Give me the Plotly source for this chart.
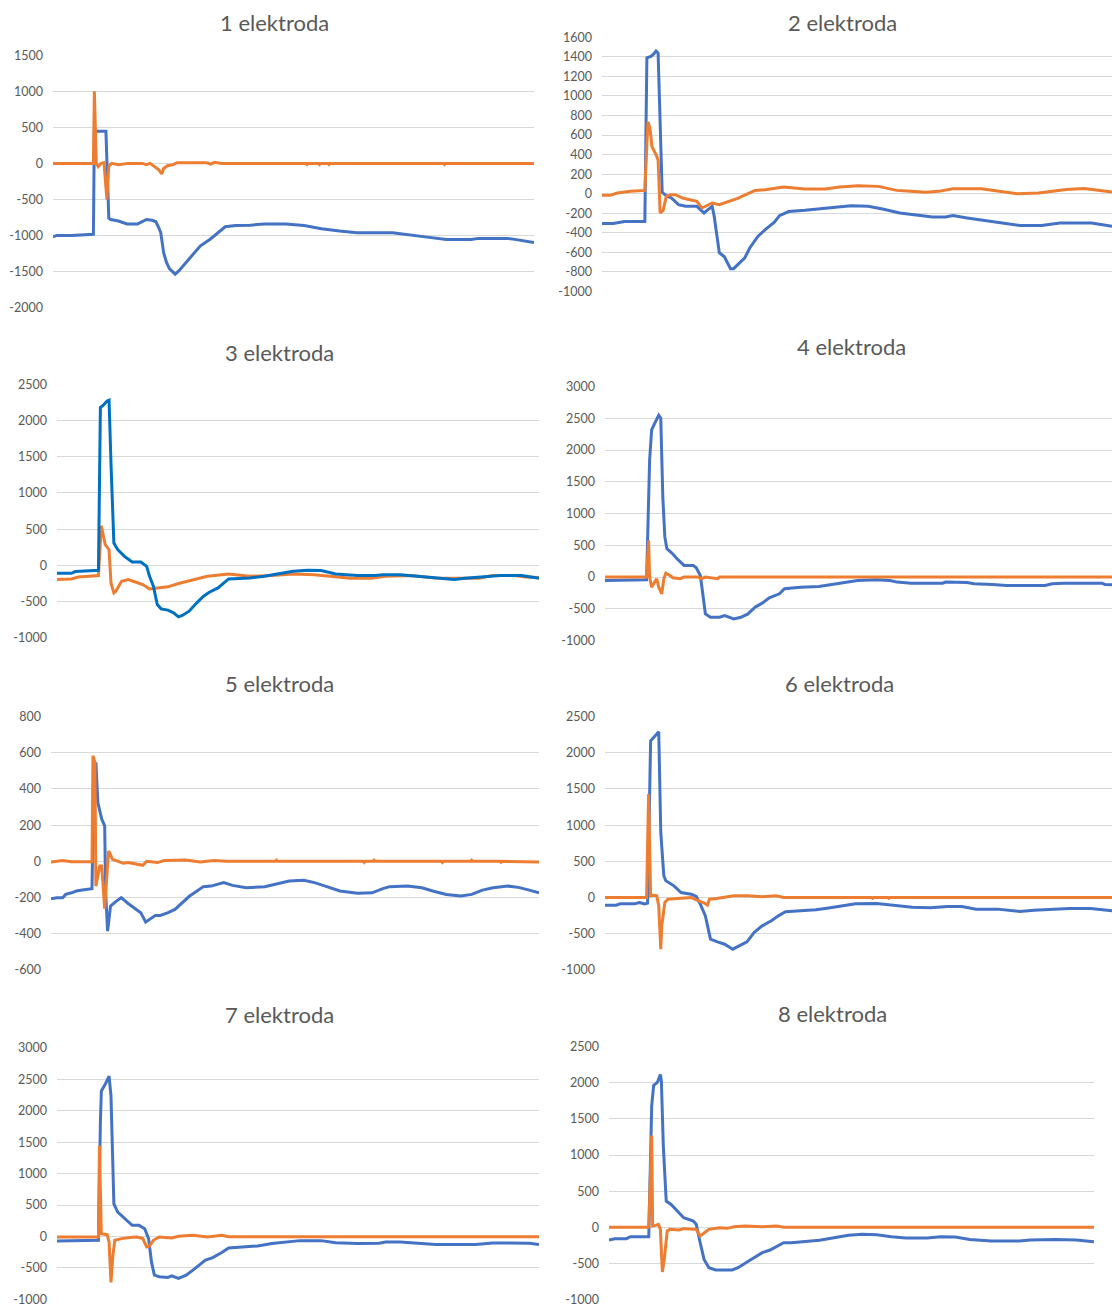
import plotly.graph_objects as go

W, H = 1112, 1307
TOP_PAD = 7.7            # vertical placement used to map page pixels onto the figure
V_SCALE = 0.988
BLUE = "#4472C4"
BLUE_DARK = "#0070C0"
ORANGE = "#ED7D31"
TEXT = "#595959"
GRID = "#D9D9D9"

# ---- electrode 1 ----
e1_blue_x = [0, 4, 19, 42, 43, 45, 55, 58, 60, 68, 77, 88, 94, 97, 103, 107, 110, 112, 115, 118,
             121, 127, 131, 138, 146, 153, 164, 171, 179, 190, 205, 220, 242, 261, 279, 298, 316,
             353, 372, 391, 409, 435, 442, 472, 480, 491, 500]
e1_blue_y = [-1018, -1000, -1000, -985, 435, 445, 445, -760, -780, -800, -840, -840, -800, -780,
             -790, -810, -895, -960, -1240, -1376, -1460, -1537, -1490, -1376, -1248, -1147, -1046,
             -963, -880, -862, -858, -840, -840, -862, -908, -940, -963, -963, -1000, -1027, -1055,
             -1055, -1041, -1041, -1055, -1078, -1100]
e1_orange_x = [0, 42, 43, 45, 47, 50, 53, 56, 58, 61, 68, 75, 78, 93, 97, 101, 106, 110, 113, 115,
               119, 125, 129, 160, 164, 168, 175, 263, 264, 265, 276, 277, 278, 286, 287, 288, 406,
               407, 408, 500]
e1_orange_y = [0, 0, 1000, 0, -46, 0, 10, -500, -40, 0, -18, -10, 0, 0, -18, 0, -46, -90, -147, -70,
               -32, -18, 9, 9, -10, 14, 0, 0, -15, 0, 0, -15, 0, 0, -15, 0, 0, -15, 0, 0]
e1_ticks = [-2000, -1500, -1000, -500, 0, 500, 1000, 1500]

# ---- electrode 2 ----
e2_blue_x = [0, 11, 22, 42, 44, 48, 51, 53, 55, 57, 59, 63, 68, 75, 82, 93, 96, 100, 103, 108, 110,
             115, 120, 126, 129, 133, 140, 145, 153, 160, 169, 174, 183, 199, 219, 233, 244, 261,
             275, 292, 310, 324, 337, 344, 358, 379, 400, 410, 431, 449, 480, 500]
e2_blue_y = [-305, -305, -285, -285, 1391, 1405, 1432, 1460, 1439, 618, 14, -20, -44, -112, -129,
             -129, -163, -197, -170, -129, -231, -604, -645, -767, -767, -723, -655, -553, -434,
             -367, -292, -224, -183, -170, -149, -136, -122, -129, -156, -197, -224, -238, -238,
             -224, -248, -278, -305, -326, -326, -299, -299, -333]
e2_orange_x = [0, 8, 15, 28, 42, 45, 47, 49, 53, 55, 57, 60, 63, 67, 72, 79, 86, 93, 98, 101, 108,
               115, 122, 127, 133, 141, 150, 160, 178, 199, 219, 233, 251, 271, 289, 303, 317, 330,
               344, 372, 389, 407, 428, 442, 455, 473, 490, 500]
e2_orange_y = [-17, -17, 7, 24, 34, 736, 669, 482, 397, 346, -197, -170, -27, -10, -10, -44, -61,
               -78, -146, -129, -95, -112, -88, -75, -48, -10, 34, 41, 68, 48, 48, 68, 81, 75, 34,
               24, 14, 24, 51, 51, 27, 0, 7, 27, 44, 54, 34, 17]
e2_ticks = [-1000, -800, -600, -400, -200, 0, 200, 400, 600, 800, 1000, 1200, 1400, 1600]

# ---- electrode 3 ----
e3_blue_x = [0, 15, 19, 30, 43, 45, 48, 52, 54, 56, 59, 63, 70, 78, 87, 93, 96, 100, 104, 108, 115,
             121, 126, 130, 137, 145, 152, 158, 167, 178, 200, 215, 230, 245, 260, 274, 289, 312,
             330, 338, 356, 375, 393, 412, 423, 438, 460, 482, 500]
e3_blue_y = [-110, -110, -87, -78, -69, 2182, 2214, 2273, 2283, 1410, 308, 216, 124, 46, 46, -14,
             -152, -289, -542, -602, -620, -657, -712, -694, -634, -519, -427, -372, -312, -188,
             -175, -152, -119, -83, -69, -73, -119, -142, -142, -129, -129, -152, -175, -197, -179,
             -161, -142, -142, -179]
e3_orange_x = [0, 15, 22, 43, 46, 50, 54, 56, 59, 61, 67, 74, 82, 89, 96, 104, 115, 126, 141, 156,
               178, 200, 223, 245, 267, 289, 304, 326, 341, 367, 393, 415, 438, 452, 475, 486, 500]
e3_orange_y = [-197, -190, -161, -142, 547, 285, 216, -243, -381, -358, -220, -197, -234, -266,
               -326, -312, -298, -252, -207, -152, -119, -152, -142, -119, -129, -161, -179, -179,
               -152, -142, -175, -179, -179, -142, -142, -161, -170]
e3_ticks = [-1000, -500, 0, 500, 1000, 1500, 2000, 2500]

# ---- electrode 4 ----
e4_blue_x = [0, 22, 41, 44, 46, 49, 53, 55, 57, 59, 61, 66, 71, 78, 87, 90, 94, 96, 99, 104, 113,
             118, 127, 134, 141, 148, 155, 162, 172, 177, 193, 211, 225, 239, 249, 267, 281, 288,
             302, 333, 336, 357, 364, 382, 396, 434, 441, 452, 490, 493, 500]
e4_blue_y = [-53, -53, -42, 1842, 2316, 2421, 2547, 2500, 1263, 632, 447, 379, 289, 184, 184, 147,
             26, -211, -579, -632, -632, -605, -658, -632, -579, -474, -410, -326, -263, -184,
             -158, -147, -116, -79, -53, -42, -53, -79, -95, -95, -79, -84, -105, -116, -132, -132,
             -105, -95, -95, -116, -121]
e4_orange_x = [0, 41, 43, 44, 46, 49, 51, 53, 56, 58, 60, 64, 67, 74, 78, 92, 95, 99, 111, 113, 500]
e4_orange_y = [0, 0, 579, 0, -158, -63, -26, -158, -263, -26, 63, 26, -10, -26, 0, 0, -26, 0, -26,
               0, 0]
e4_ticks = [-1000, -500, 0, 500, 1000, 1500, 2000, 2500, 3000]

# ---- electrode 5 ----
e5_blue_x = [0, 6, 12, 15, 21, 26, 32, 37, 42, 44, 46, 48, 52, 55, 56, 58, 61, 67, 72, 79, 87, 92,
             97, 101, 107, 112, 120, 127, 134, 142, 147, 156, 164, 177, 186, 200, 219, 233, 244,
             259, 270, 281, 296, 314, 329, 340, 347, 365, 380, 391, 405, 420, 431, 442, 453, 468,
             479, 490, 500]
e5_blue_y = [-207, -201, -201, -183, -174, -164, -159, -155, -151, 473, 547, 325, 233, 196, -174,
             -386, -247, -220, -201, -233, -262, -284, -336, -321, -299, -299, -284, -266, -233,
             -192, -174, -140, -137, -118, -133, -146, -140, -122, -109, -105, -118, -137, -164,
             -177, -174, -151, -140, -137, -146, -164, -183, -192, -183, -159, -146, -137, -144,
             -159, -174]
e5_orange_x = [0, 12, 21, 35, 42, 43, 45, 46, 50, 52, 55, 57, 59, 60, 63, 69, 74, 79, 94, 98, 109,
               116, 138, 153, 167, 180, 230, 231, 232, 320, 321, 322, 330, 331, 332, 400, 401, 402,
               430, 431, 432, 460, 461, 462, 500]
e5_orange_y = [-4, 4, -2, 0, -2, 584, 547, -137, -26, -26, -262, -100, 57, 48, 11, 0, -11, -7, -22,
               0, -7, 4, 7, -4, 4, 0, 0, 6, 0, 0, -6, 0, 0, 6, 0, 0, -6, 0, 0, 6, 0, 0, -5, 0, -4]
e5_ticks = [-600, -400, -200, 0, 200, 400, 600, 800]

# ---- electrode 6 ----
e6_blue_x = [0, 11, 15, 29, 34, 39, 42, 45, 48, 51, 53, 55, 58, 60, 68, 75, 85, 90, 94, 99, 104,
             111, 118, 126, 131, 140, 147, 155, 164, 171, 178, 191, 208, 219, 233, 247, 268, 282,
             303, 321, 338, 352, 366, 387, 409, 423, 444, 458, 479, 500]
e6_blue_y = [-106, -106, -88, -88, -69, -88, -78, 2167, 2213, 2259, 2292, 899, 300, 230, 161, 69,
             46, 14, -92, -254, -576, -613, -646, -715, -682, -613, -484, -392, -323, -254, -198,
             -184, -171, -148, -115, -88, -83, -106, -134, -143, -124, -124, -161, -161, -194,
             -175, -161, -152, -152, -184]
e6_orange_x = [0, 41, 43, 45, 48, 51, 53, 55, 56, 59, 62, 71, 85, 92, 98, 101, 103, 110, 117, 127,
               141, 155, 169, 176, 263, 264, 265, 279, 280, 281, 500]
e6_orange_y = [0, 0, 1429, 23, 32, 23, -115, -715, -392, -69, -23, -14, 0, -46, -78, -106, -23,
               -14, 0, 23, 23, 9, 23, 0, 0, -12, 0, 0, -12, 0, 0]
e6_ticks = [-1000, -500, 0, 500, 1000, 1500, 2000, 2500]

# ---- electrode 7 ----
e7_blue_x = [0, 15, 24, 43, 45, 46, 50, 54, 56, 59, 63, 69, 78, 85, 91, 95, 98, 101, 106, 115, 119,
             126, 134, 141, 147, 154, 161, 171, 178, 193, 208, 223, 237, 252, 274, 289, 312, 334,
             341, 356, 378, 393, 434, 445, 452, 490, 500]
e7_blue_y = [-71, -71, -61, -61, 1813, 2314, 2420, 2551, 2235, 520, 388, 309, 177, 177, 124, -34,
             -404, -615, -641, -652, -626, -668, -615, -536, -467, -377, -340, -256, -182, -166,
             -150, -113, -87, -66, -66, -98, -113, -108, -87, -87, -113, -129, -129, -113, -103,
             -108, -129]
e7_orange_x = [0, 43, 44, 46, 52, 54, 56, 58, 60, 67, 78, 83, 89, 93, 96, 100, 106, 119, 126, 141,
               156, 171, 178, 500]
e7_orange_y = [-8, -8, 1443, 45, 29, -87, -731, -298, -61, -34, -13, -8, -34, -166, -150, -61, -8,
               -24, 3, 18, -8, 18, -3, -3]
e7_ticks = [-1000, -500, 0, 500, 1000, 1500, 2000, 2500, 3000]

# ---- electrode 8 ----
e8_blue_x = [0, 6, 18, 22, 41, 44, 46, 50, 53, 54, 56, 59, 64, 70, 77, 87, 90, 94, 98, 103, 110,
             127, 133, 144, 151, 158, 166, 173, 180, 188, 203, 217, 232, 247, 261, 276, 291, 306,
             328, 342, 357, 372, 394, 423, 434, 460, 482, 500]
e8_blue_y = [-178, -159, -159, -132, -132, 1678, 1964, 2011, 2117, 2024, 1124, 362, 316, 224, 132,
             85, 39, -215, -446, -561, -593, -593, -561, -469, -409, -353, -316, -261, -215, -215,
             -201, -182, -145, -113, -99, -104, -132, -150, -150, -132, -136, -169, -192, -192,
             -178, -169, -178, -201]
e8_orange_x = [0, 41, 44, 45, 48, 51, 53, 55, 57, 60, 63, 72, 77, 87, 90, 94, 98, 103, 114, 122,
               129, 140, 158, 173, 180, 260, 261, 262, 406, 407, 408, 500]
e8_orange_y = [0, 0, 1272, 18, 25, 39, -30, -621, -445, -53, -30, -39, -20, -20, -30, -122, -76,
               -30, -7, -16, 7, 16, 7, 16, 0, 0, -10, 0, 0, -10, 0, 0]
e8_ticks = [-1000, -500, 0, 500, 1000, 1500, 2000, 2500]

titles = [f"{i} elektroda" for i in range(1, 9)]
tick_sets = [e1_ticks, e2_ticks, e3_ticks, e4_ticks, e5_ticks, e6_ticks, e7_ticks, e8_ticks]
series = [
    (e1_blue_x, e1_blue_y, e1_orange_x, e1_orange_y),
    (e2_blue_x, e2_blue_y, e2_orange_x, e2_orange_y),
    (e3_blue_x, e3_blue_y, e3_orange_x, e3_orange_y),
    (e4_blue_x, e4_blue_y, e4_orange_x, e4_orange_y),
    (e5_blue_x, e5_blue_y, e5_orange_x, e5_orange_y),
    (e6_blue_x, e6_blue_y, e6_orange_x, e6_orange_y),
    (e7_blue_x, e7_blue_y, e7_orange_x, e7_orange_y),
    (e8_blue_x, e8_blue_y, e8_orange_x, e8_orange_y),
]

# panel boxes in page pixels: (left, right, top gridline, bottom gridline), title centre
boxes = [(53, 534, 55, 307), (602, 1112, 37, 291),
         (57, 539, 384, 637), (605, 1112, 386, 640),
         (51, 539, 716, 969), (605, 1112, 716, 969),
         (57, 539, 1047, 1299), (609, 1094, 1046, 1299)]
title_pos = [(274, 22), (842, 22), (279, 352), (851, 346),
             (279, 683), (839, 683), (279, 1014), (832, 1013)]


def fx(px):
    return min(max(px / W, 0.0), 1.0)


def fy(py):
    return min(max(1 - ((py - TOP_PAD) / V_SCALE) / H, 0.0005), 1.0)


fig = go.Figure()
layout = dict(width=W, height=H, margin=dict(l=0, r=0, t=0, b=0),
              paper_bgcolor="white", plot_bgcolor="white", showlegend=False,
              annotations=[])

for i in range(8):
    n = "" if i == 0 else str(i + 1)
    bx, by, ox, oy = series[i]
    left, right, top, bottom = boxes[i]
    blue_col = BLUE_DARK if i == 2 else BLUE
    blue_tr = go.Scatter(x=bx, y=by, mode="lines", line=dict(color=blue_col, width=3),
                         xaxis="x" + n, yaxis="y" + n, hoverinfo="skip")
    orange_tr = go.Scatter(x=ox, y=oy, mode="lines", line=dict(color=ORANGE, width=3),
                           xaxis="x" + n, yaxis="y" + n, hoverinfo="skip")
    if i == 2:
        fig.add_trace(orange_tr)
        fig.add_trace(blue_tr)
    else:
        fig.add_trace(blue_tr)
        fig.add_trace(orange_tr)

    layout["xaxis" + n] = dict(domain=[fx(left), fx(right)], range=[0, 500],
                               showgrid=False, zeroline=False, showticklabels=False,
                               showline=False, ticks="", anchor="y" + n)
    ticks = tick_sets[i]
    layout["yaxis" + n] = dict(domain=[fy(bottom), fy(top)],
                               range=[ticks[0], ticks[-1]],
                               tickmode="array", tickvals=ticks,
                               ticktext=[str(t) for t in ticks],
                               showgrid=True, gridcolor=GRID,
                               gridwidth=1, zeroline=False, showline=False, ticks="",
                               ticklabelstandoff=9,
                               tickfont=dict(family="Lato", size=12.5, color=TEXT),
                               anchor="x" + n)
    tx, ty = title_pos[i]
    layout["annotations"].append(dict(text=titles[i], x=fx(tx), y=fy(ty),
                                      xref="paper", yref="paper", xanchor="center",
                                      yanchor="middle", showarrow=False,
                                      font=dict(family="Lato", size=22, color=TEXT)))

fig.update_layout(**layout)
fig.write_html("out.html")
